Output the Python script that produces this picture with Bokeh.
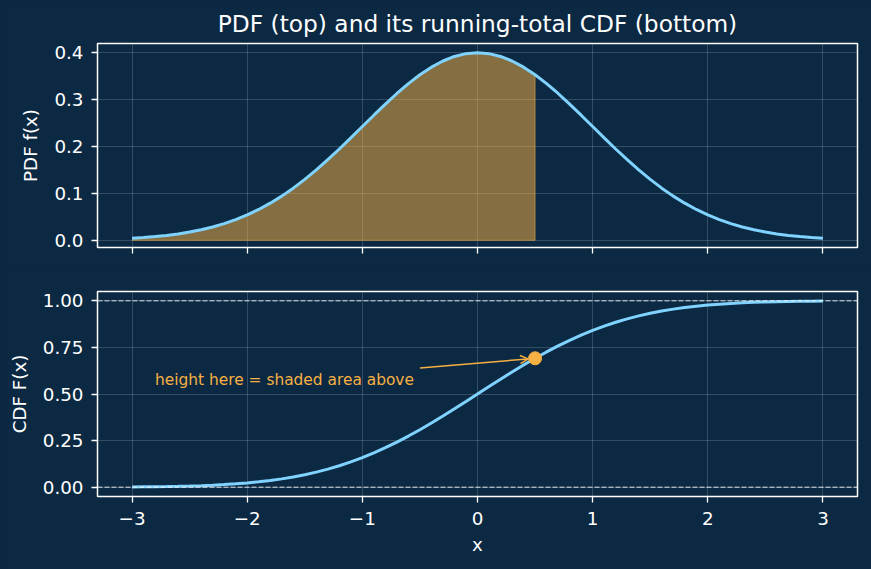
from bokeh.plotting import figure
from bokeh.layouts import column
from bokeh.models import Range1d, FixedTicker, NumeralTickFormatter, Label, Arrow, OpenHead, Span
from bokeh.embed import file_html
from bokeh.resources import INLINE

# ---- data ----
x_vals = [-3.0, -2.9, -2.8, -2.7, -2.6, -2.5, -2.4, -2.3, -2.2, -2.1,
          -2.0, -1.9, -1.8, -1.7, -1.6, -1.5, -1.4, -1.3, -1.2, -1.1,
          -1.0, -0.9, -0.8, -0.7, -0.6, -0.5, -0.4, -0.3, -0.2, -0.1,
          0.0, 0.1, 0.2, 0.3, 0.4, 0.5, 0.6, 0.7, 0.8, 0.9,
          1.0, 1.1, 1.2, 1.3, 1.4, 1.5, 1.6, 1.7, 1.8, 1.9,
          2.0, 2.1, 2.2, 2.3, 2.4, 2.5, 2.6, 2.7, 2.8, 2.9, 3.0]
pdf_vals = [0.0044, 0.0060, 0.0079, 0.0104, 0.0136, 0.0175, 0.0224, 0.0283, 0.0355, 0.0440,
            0.0540, 0.0656, 0.0790, 0.0940, 0.1109, 0.1295, 0.1497, 0.1714, 0.1942, 0.2179,
            0.2420, 0.2661, 0.2897, 0.3123, 0.3332, 0.3521, 0.3683, 0.3814, 0.3910, 0.3970,
            0.3989, 0.3970, 0.3910, 0.3814, 0.3683, 0.3521, 0.3332, 0.3123, 0.2897, 0.2661,
            0.2420, 0.2179, 0.1942, 0.1714, 0.1497, 0.1295, 0.1109, 0.0940, 0.0790, 0.0656,
            0.0540, 0.0440, 0.0355, 0.0283, 0.0224, 0.0175, 0.0136, 0.0104, 0.0079, 0.0060, 0.0044]
cdf_vals = [0.0013, 0.0019, 0.0026, 0.0035, 0.0047, 0.0062, 0.0082, 0.0107, 0.0139, 0.0179,
            0.0228, 0.0287, 0.0359, 0.0446, 0.0548, 0.0668, 0.0808, 0.0968, 0.1151, 0.1357,
            0.1587, 0.1841, 0.2119, 0.2420, 0.2743, 0.3085, 0.3446, 0.3821, 0.4207, 0.4602,
            0.5000, 0.5398, 0.5793, 0.6179, 0.6554, 0.6915, 0.7257, 0.7580, 0.7881, 0.8159,
            0.8413, 0.8643, 0.8849, 0.9032, 0.9192, 0.9332, 0.9452, 0.9554, 0.9641, 0.9713,
            0.9772, 0.9821, 0.9861, 0.9893, 0.9918, 0.9938, 0.9953, 0.9965, 0.9974, 0.9981, 0.9987]
x_cut = 0.5
x_ticks = [-3, -2, -1, 0, 1, 2, 3]
x_tick_labels = ["\u22123", "\u22122", "\u22121", "0", "1", "2", "3"]
pdf_ticks = [0.0, 0.1, 0.2, 0.3, 0.4]
cdf_ticks = [0.0, 0.25, 0.5, 0.75, 1.0]
ref_levels = [0.0, 1.0]
title_text = "PDF (top) and its running-total CDF (bottom)"
annot_text = "height here = shaded area above"
annot_text_pos = (-2.8, 0.577)
annot_arrow_from = (-0.5, 0.64)

# ---- style ----
BG = "#0b2942"
CURVE = "#80d2ff"
ORANGE = "#f6b043"
FONT = "DejaVu Sans"
FS = "18.3px"
W = 871

shade_idx = [i for i, xv in enumerate(x_vals) if xv <= x_cut + 1e-9]
shade_x = [x_vals[i] for i in shade_idx]
shade_y = [pdf_vals[i] for i in shade_idx]
cut_i = shade_idx[-1]
pt_x, pt_y = x_vals[cut_i], cdf_vals[cut_i]

x_lo = min(x_vals) - 0.05 * (max(x_vals) - min(x_vals))
x_hi = max(x_vals) + 0.05 * (max(x_vals) - min(x_vals))


def style(p):
    p.background_fill_color = BG
    p.border_fill_color = BG
    p.outline_line_color = "white"
    p.outline_line_width = 1.5
    p.min_border_left = 97
    p.min_border_right = 14
    for ax in (p.xaxis[0], p.yaxis[0]):
        ax.axis_line_color = None
        ax.major_tick_line_color = "white"
        ax.major_tick_line_width = 1.3
        ax.major_tick_out = 6
        ax.major_tick_in = 0
        ax.minor_tick_line_color = None
        ax.major_label_text_color = "white"
        ax.major_label_text_font = FONT
        ax.major_label_text_font_size = FS
        ax.axis_label_text_color = "white"
        ax.axis_label_text_font = FONT
        ax.axis_label_text_font_size = FS
        ax.axis_label_text_font_style = "normal"
        ax.axis_label_standoff = 10
    p.yaxis[0].major_label_standoff = 8
    p.xaxis[0].major_label_standoff = 9
    p.xaxis[0].ticker = FixedTicker(ticks=x_ticks)
    for g in (p.xgrid[0], p.ygrid[0]):
        g.grid_line_color = "white"
        g.grid_line_alpha = 0.22
        g.grid_line_width = 0.8


# ---- top: PDF ----
top = figure(width=W, height=270, output_backend="svg", toolbar_location=None,
             x_range=Range1d(x_lo, x_hi), y_range=Range1d(-0.0153, 0.4186),
             title=title_text)
style(top)
top.min_border_top = 43
top.min_border_bottom = 23
top.title.align = "center"
top.title.text_color = "white"
top.title.text_font = FONT
top.title.text_font_size = "23.3px"
top.title.text_font_style = "normal"
top.title.standoff = 13
top.yaxis[0].ticker = FixedTicker(ticks=pdf_ticks)
top.yaxis[0].formatter = NumeralTickFormatter(format="0.0")
top.yaxis[0].axis_label = "PDF f(x)"
top.xaxis[0].major_label_overrides = {t: "" for t in x_ticks}
top.xaxis[0].major_label_standoff = 0

top.varea(x=shade_x, y1=[0] * len(shade_x), y2=shade_y, fill_color=ORANGE, fill_alpha=0.52)
top.line(x=[x_cut, x_cut], y=[0, shade_y[-1]], line_color=ORANGE, line_alpha=0.55, line_width=1)
top.line(x=shade_x, y=[0] * len(shade_x), line_color=ORANGE, line_alpha=0.55, line_width=1)
top.line(x=x_vals, y=pdf_vals, line_color=CURVE, line_width=3)

# ---- bottom: CDF ----
bot = figure(width=W, height=299, output_backend="svg", toolbar_location=None,
             x_range=top.x_range, y_range=Range1d(-0.05, 1.05))
style(bot)
bot.min_border_top = 21
bot.min_border_bottom = 73
bot.xaxis[0].major_label_overrides = {t: l for t, l in zip(x_ticks, x_tick_labels)}
bot.yaxis[0].ticker = FixedTicker(ticks=cdf_ticks)
bot.yaxis[0].formatter = NumeralTickFormatter(format="0.00")
bot.yaxis[0].axis_label = "CDF F(x)"
bot.xaxis[0].axis_label = "x"
bot.xaxis[0].axis_label_standoff = 6

for lvl in ref_levels:
    bot.add_layout(Span(location=lvl, dimension="width", line_color="white",
                        line_dash="5 2", line_width=1, line_alpha=0.85))
bot.line(x=x_vals, y=cdf_vals, line_color=CURVE, line_width=3)

shrink = 0.94
ax0, ay0 = annot_arrow_from
bot.add_layout(Arrow(x_start=ax0, y_start=ay0,
                     x_end=ax0 + (pt_x - ax0) * shrink, y_end=ay0 + (pt_y - ay0) * shrink,
                     line_color=ORANGE, line_width=1.5,
                     end=OpenHead(size=8, line_color=ORANGE, line_width=1.5)))
bot.scatter(x=[pt_x], y=[pt_y], size=13, fill_color=ORANGE, line_color=ORANGE)
bot.add_layout(Label(x=annot_text_pos[0], y=annot_text_pos[1], text=annot_text,
                     text_color=ORANGE, text_font=FONT, text_font_size="15.4px",
                     text_baseline="alphabetic", text_align="left"))

layout = column(top, bot, spacing=0)
html = file_html(layout, INLINE)
html = html.replace("<head>", "<head><style>html,body{background:%s;margin:0;padding:0}</style>" % BG, 1)
open("out.html", "w").write(html)
